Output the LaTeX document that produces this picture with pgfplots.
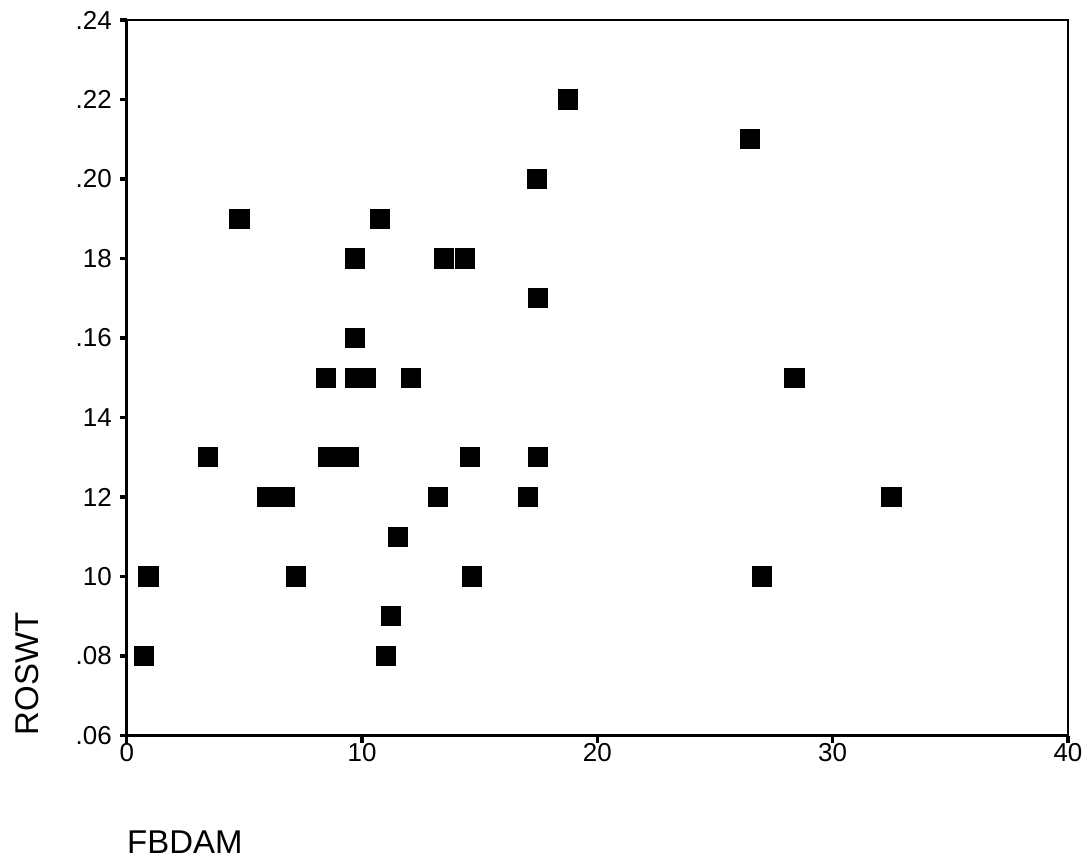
\documentclass[border=0pt]{standalone}
\usepackage{fontspec}
\setmainfont{Liberation Sans}
\usepackage{pgfplots}
\pgfplotsset{compat=1.18}

\begin{document}
\begin{tikzpicture}
\begin{axis}[
  scale only axis,
  width=471.5pt, height=358.5pt,
  xmin=0, xmax=40, ymin=0.06, ymax=0.24,
  xtick={0,10,20,30,40},
  xticklabels={0,10,20,30,40},
  ytick={0.06,0.08,0.10,0.12,0.14,0.16,0.18,0.20,0.22,0.24},
  yticklabels={.06,.08,10,12,14,.16,18,.20,.22,.24},
  tick align=outside,
  xtick pos=left, ytick pos=left,
  major tick length=3.5pt,
  tick style={line width=1.6pt, black},
  axis line style={line width=1.4pt},
  ticklabel style={font=\fontsize{13}{15}\selectfont},
  xticklabel style={yshift=3pt},
  yticklabel style={xshift=-0.5pt},
  xlabel={FBDAM},
  ylabel={ROSWT},
  label style={font=\fontsize{16.5}{19}\selectfont, inner sep=0pt},
  xlabel style={at={(axis description cs:0,-0.1646)}, anchor=base west},
  ylabel style={at={(axis description cs:-0.106,0)}, anchor=west},
  clip=false,
]
% FBDAM vs ROSWT
\addplot[only marks, mark=square*, mark size=4.8pt,
  mark options={fill=black, draw=black, line width=0pt}] coordinates {
  (18.75,0.22)
  (26.47,0.21)
  (17.43,0.20)
  (4.79,0.19) (10.77,0.19)
  (9.71,0.18) (13.49,0.18) (14.38,0.18)
  (17.47,0.17)
  (9.71,0.16)
  (8.48,0.15) (9.71,0.15) (10.18,0.15) (12.09,0.15) (28.38,0.15)
  (3.44,0.13) (8.57,0.13) (9.42,0.13) (14.59,0.13) (17.47,0.13)
  (5.98,0.12) (6.70,0.12) (13.23,0.12) (17.05,0.12) (32.50,0.12)
  (11.54,0.11)
  (0.92,0.10) (7.20,0.10) (14.68,0.10) (27.00,0.10)
  (11.24,0.09)
  (0.72,0.08) (11.03,0.08)
};
% keep the page the size of the original figure
\path (axis description cs:-0.1347,-0.1771) rectangle (axis description cs:1.0201,1.0279);
\end{axis}
\end{tikzpicture}
\end{document}
